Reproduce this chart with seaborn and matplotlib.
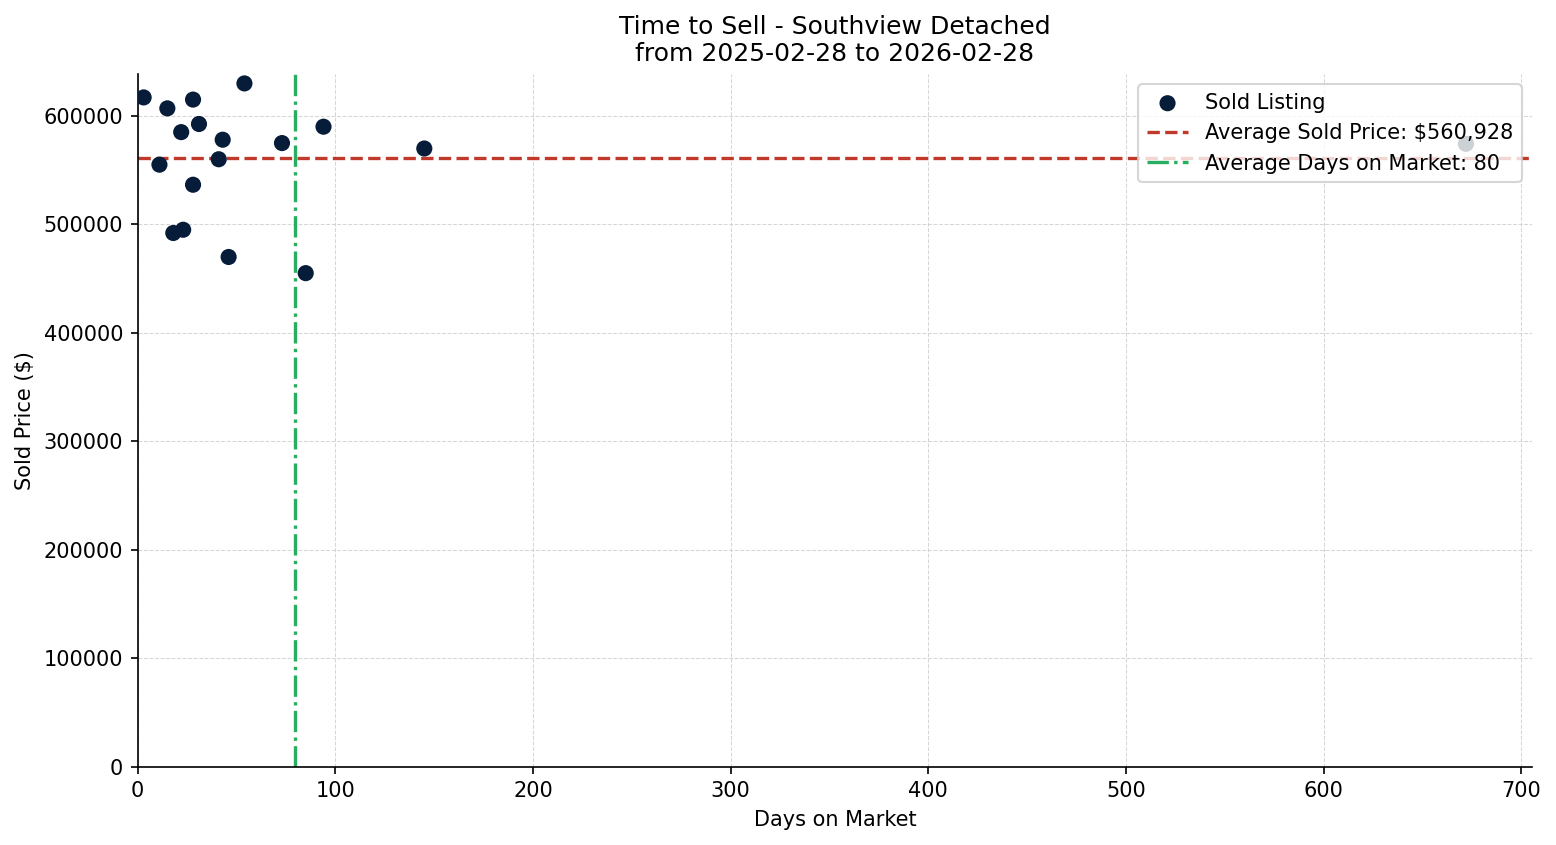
import pandas as pd
import matplotlib
matplotlib.use("Agg")
import matplotlib.pyplot as plt
import seaborn as sns

# Sold listings
days_on_market = [3, 15, 11, 18, 23, 22, 28, 28, 31, 43, 41, 46, 54, 73, 85, 94, 145, 672]
sold_price = [617000, 606900, 555000, 492000, 495000, 585000, 615000, 536500, 592500,
              578000, 560000, 469900, 629900, 574900, 455000, 590000, 569900, 574204]

title = "Time to Sell - Southview Detached\nfrom 2025-02-28 to 2026-02-28"

df = pd.DataFrame({"Days": days_on_market, "Price": sold_price})
avg_price = df["Price"].mean()
avg_days = df["Days"].mean()

fig, ax = plt.subplots(figsize=(1556 / 150, 845 / 150), dpi=150)
fig.subplots_adjust(left=0.0885, right=0.9846, top=0.9125, bottom=0.0927)

sns.scatterplot(data=df, x="Days", y="Price", s=60, color="#061c38",
                edgecolor="none", label="Sold Listing", ax=ax, zorder=3)
ax.axhline(avg_price, color="#c0392b", linestyle="--", linewidth=1.6,
           label=f"Average Sold Price: ${avg_price:,.0f}")
ax.axvline(avg_days, color="#27ae60", linestyle="-.", linewidth=1.6,
           label=f"Average Days on Market: {avg_days:.0f}")

ax.set_xlim(left=0)
ax.set_ylim(bottom=0)
ax.grid(True, linestyle="--", linewidth=0.5, color="#cccccc", alpha=0.8)
ax.set_axisbelow(True)
sns.despine(ax=ax)

ax.set_title(title, fontsize=12)
ax.set_xlabel("Days on Market")
ax.set_ylabel("Sold Price ($)")
ax.legend(loc="upper right")

plt.savefig("out.png", dpi=150)
